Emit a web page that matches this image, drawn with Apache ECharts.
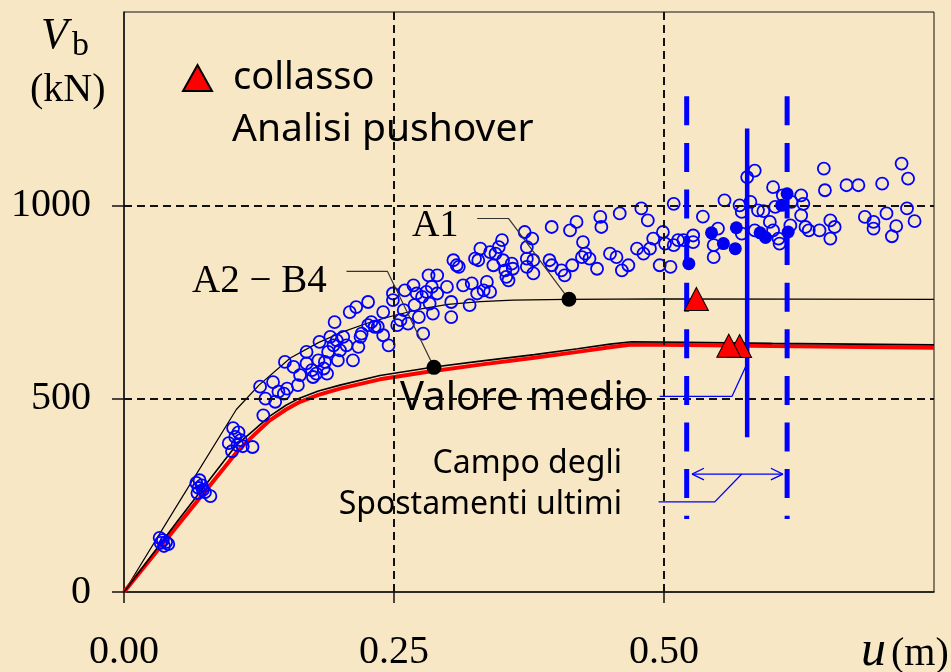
<!DOCTYPE html>
<html>
<head>
<meta charset="utf-8">
<script src="https://cdn.jsdelivr.net/npm/echarts@6/dist/echarts.min.js"></script>
<style>
  html, body { margin: 0; padding: 0; background: #f8e7c4; }
  #chart { width: 951px; height: 672px; }
</style>
</head>
<body>
<div id="chart"></div>
<script>
// Axis ticks
const xTicks = [0, 0.25, 0.5];
const yTicks = [0, 500, 1000];
const xGridLines = [0.25, 0.5];
const yGridLines = [500, 1000];

// Pushover curves: [u (m), Vb (kN)]
const curveA1 = [
  [0, 0], [0.05, 228], [0.104, 472], [0.125, 535], [0.154, 605], [0.18, 645],
  [0.2, 670], [0.225, 695], [0.25, 715], [0.275, 732], [0.3, 744], [0.33, 751],
  [0.36, 755], [0.41, 757], [0.5, 758], [0.75, 757]
];
const curveA2B4 = [
  [0, 0], [0.05, 185], [0.104, 380], [0.12, 418], [0.135, 455], [0.15, 483],
  [0.163, 502], [0.18, 520], [0.2, 535], [0.237, 560], [0.287, 582], [0.33, 597],
  [0.38, 614], [0.42, 629], [0.45, 641], [0.47, 647], [0.52, 646], [0.6, 643], [0.75, 639]
];
const curveMean = [
  [0, 0], [0.05, 173], [0.106, 367], [0.12, 405], [0.135, 444], [0.15, 472],
  [0.163, 492], [0.18, 510], [0.2, 526], [0.237, 550], [0.28, 569], [0.33, 588],
  [0.38, 606], [0.42, 621], [0.45, 633], [0.47, 640], [0.52, 639], [0.6, 636], [0.75, 632]
];

// Dynamic analyses: peak displacement vs base shear
const samples = [
  [0.033, 140], [0.036, 134], [0.039, 129], [0.034, 127], [0.041, 124], [0.037, 119],
  [0.067, 282], [0.069, 269], [0.072, 276], [0.068, 256], [0.075, 258], [0.080, 248], [0.070, 289], [0.073, 264],
  [0.101, 424], [0.103, 401], [0.106, 413], [0.108, 393], [0.097, 385], [0.110, 377], [0.100, 364], [0.119, 375], [0.105, 380],
  [0.126, 531], [0.131, 500], [0.129, 457], [0.138, 543], [0.140, 492], [0.143, 518], [0.148, 513], [0.149, 595],
  [0.151, 526], [0.157, 582], [0.161, 535], [0.163, 561], [0.169, 621], [0.169, 591], [0.174, 574], [0.175, 556],
  [0.178, 565], [0.180, 599], [0.181, 647], [0.185, 578], [0.186, 595], [0.188, 565], [0.189, 621], [0.191, 660],
  [0.194, 638], [0.195, 698], [0.197, 651], [0.198, 599], [0.200, 625], [0.203, 660], [0.206, 638], [0.209, 724],
  [0.212, 599], [0.215, 737], [0.217, 634], [0.219, 660], [0.220, 668], [0.226, 750], [0.226, 690], [0.229, 698],
  [0.232, 686], [0.235, 686], [0.240, 724], [0.240, 664], [0.245, 638], [0.249, 755], [0.249, 772], [0.253, 690],
  [0.256, 703], [0.259, 729], [0.260, 780], [0.263, 694], [0.268, 793], [0.269, 742], [0.271, 772], [0.273, 711],
  [0.276, 763], [0.277, 668], [0.280, 776], [0.282, 819], [0.283, 746], [0.285, 789], [0.286, 720], [0.290, 819], [0.290, 772],
  [0.299, 789], [0.303, 711], [0.303, 750], [0.305, 858], [0.308, 845], [0.310, 841], [0.314, 793], [0.320, 742],
  [0.322, 798], [0.325, 862], [0.327, 772], [0.328, 858], [0.330, 888], [0.333, 780], [0.336, 802], [0.339, 776],
  [0.339, 879], [0.342, 845], [0.344, 875], [0.347, 892], [0.350, 910], [0.351, 858], [0.353, 832], [0.354, 815],
  [0.356, 806], [0.359, 849], [0.360, 836], [0.371, 931], [0.373, 892], [0.373, 862], [0.373, 841], [0.378, 914],
  [0.379, 858], [0.379, 824], [0.394, 858], [0.396, 845], [0.396, 944], [0.405, 832], [0.408, 819], [0.413, 935],
  [0.415, 845], [0.419, 957], [0.425, 905], [0.424, 866], [0.427, 875], [0.431, 862], [0.438, 836], [0.441, 970],
  [0.442, 944], [0.450, 875], [0.456, 866], [0.461, 832], [0.459, 979], [0.467, 845], [0.475, 888], [0.479, 992],
  [0.481, 875], [0.485, 961], [0.487, 888], [0.490, 914], [0.496, 845], [0.499, 931], [0.501, 901], [0.506, 841],
  [0.509, 897], [0.509, 1004], [0.513, 910],
  [0.518, 910], [0.527, 922], [0.527, 905], [0.536, 971], [0.546, 897], [0.546, 866], [0.550, 940], [0.556, 1013],
  [0.570, 1000], [0.572, 983], [0.572, 927], [0.577, 1073], [0.580, 1009], [0.584, 1090], [0.584, 935], [0.587, 987],
  [0.592, 985], [0.598, 957], [0.601, 1047], [0.601, 935], [0.603, 996], [0.606, 914], [0.607, 901], [0.610, 1026],
  [0.617, 948], [0.618, 1009], [0.627, 1026], [0.627, 974], [0.629, 1004], [0.631, 944], [0.634, 935], [0.644, 935],
  [0.648, 1095], [0.649, 1039], [0.654, 961], [0.654, 914], [0.658, 944], [0.669, 1052], [0.680, 1052], [0.686, 970],
  [0.694, 957], [0.694, 940], [0.702, 1056], [0.706, 979], [0.711, 920], [0.715, 946], [0.720, 1108], [0.725, 992],
  [0.726, 1069], [0.732, 959]
];
// Analyses reaching ultimate displacement
const samplesUltimate = [
  [0.523, 849], [0.544, 929], [0.555, 901], [0.566, 888], [0.567, 942],
  [0.589, 929], [0.594, 917], [0.609, 1000], [0.614, 1030], [0.615, 931]
];
// Collapse points of the pushover analyses
const collapse = [[0.570, 636], [0.560, 637], [0.530, 758]];
// Reference points on the pushover curves
const pointA1 = [0.412, 757];
const pointA2B4 = [0.287, 581];

// Range of ultimate displacements
const uLow = 0.521, uHigh = 0.614, uMean = 0.577;
const rangeTop = 1282, rangeBottom = 189;
const meanTop = 1199, meanBottom = 400;

// Annotation leaders (data units)
const leaderA1 = [[0.327, 966], [0.356, 966], pointA1];
const leaderA2B4 = [[0.206, 829], [0.244, 829], pointA2B4];
const leaderMean = [[0.496, 506], [0.563, 506], [0.576, 585]];
const leaderRange = [[0.495, 233], [0.547, 233], [0.572, 305]];
const arrowV = 305;
const arrowLen = 0.011, arrowHalf = 15;

const BLUE = '#0000ff';

function plainLine(name, data, style, z) {
  return {
    name, type: 'line', data, symbol: 'none', silent: true, z: z || 2,
    lineStyle: style, animation: false
  };
}

const chart = echarts.init(document.getElementById('chart'), null, { renderer: 'canvas' });

const option = {
  backgroundColor: '#f8e7c4',
  animation: false,
  grid: {
    left: 124, right: 17, top: 12, bottom: 80,
    show: true, borderColor: '#111', borderWidth: 1, backgroundColor: 'transparent'
  },
  legend: {
    data: ['collasso'],
    left: 182, top: 59, padding: 0,
    icon: 'triangle',
    itemWidth: 29, itemHeight: 26,
    textStyle: { fontFamily: 'Noto Sans', fontSize: 38, color: '#000', padding: [8, 0, 0, 16] }
  },
  xAxis: {
    type: 'value', min: 0, max: 0.75, interval: 0.25,
    axisLine: { show: true, lineStyle: { color: '#111', width: 1.5 } },
    axisTick: { show: true, inside: false, length: 11, customValues: xTicks, lineStyle: { color: '#111', width: 1.5 } },
    axisLabel: {
      customValues: xTicks, margin: 40,
      formatter: v => v.toFixed(2),
      fontFamily: 'Liberation Serif', fontSize: 40, color: '#000'
    },
    splitLine: { show: false }
  },
  yAxis: {
    type: 'value', min: 0, max: 1500, interval: 500,
    axisLine: { show: true, lineStyle: { color: '#111', width: 1.5 } },
    axisTick: { show: true, inside: false, length: 12, customValues: yTicks, lineStyle: { color: '#111', width: 1.5 } },
    axisLabel: {
      customValues: yTicks, margin: 33,
      formatter: v => String(v),
      fontFamily: 'Liberation Serif', fontSize: 40, color: '#000'
    },
    splitLine: { show: false }
  },
  graphic: [
    { type: 'text', x: 41, y: 36, style: { text: 'V', font: 'italic 44px "Liberation Serif"', fill: '#000', verticalAlign: 'middle' } },
    { type: 'text', x: 72, y: 46, style: { text: 'b', font: '34px "Liberation Serif"', fill: '#000', verticalAlign: 'middle' } },
    { type: 'text', x: 30, y: 90, style: { text: '(kN)', font: '40px "Liberation Serif"', fill: '#000', verticalAlign: 'middle' } },
    { type: 'text', x: 861, y: 652, style: { text: 'u', font: 'italic 50px "Liberation Serif"', fill: '#000', verticalAlign: 'middle' } },
    { type: 'text', x: 891, y: 654, style: { text: '(m)', font: '40px "Liberation Serif"', fill: '#000', verticalAlign: 'middle' } },
    { type: 'text', x: 232, y: 130, style: { text: 'Analisi pushover', font: '39px "Noto Sans"', fill: '#000', verticalAlign: 'middle' } },
    { type: 'text', x: 412, y: 226, style: { text: 'A1', font: '38px "Liberation Serif"', fill: '#000', verticalAlign: 'middle' } },
    { type: 'text', x: 192, y: 282, style: { text: 'A2 \u2212 B4', font: '39px "Liberation Serif"', fill: '#000', verticalAlign: 'middle' } },
    { type: 'text', x: 400, y: 399, style: { text: 'Valore medio', font: '40px "Noto Sans"', fill: '#000', verticalAlign: 'middle' } },
    { type: 'text', x: 622, y: 464, style: { text: 'Campo degli', font: '32px "Noto Sans"', fill: '#000', align: 'right', verticalAlign: 'middle' } },
    { type: 'text', x: 622, y: 505, style: { text: 'Spostamenti ultimi', font: '32px "Noto Sans"', fill: '#000', align: 'right', verticalAlign: 'middle' } }
  ],
  series: [
    // dashed reference grid
    {
      name: 'grid', type: 'line', data: [], silent: true, z: 1,
      markLine: {
        silent: true, symbol: 'none', label: { show: false }, animation: false,
        lineStyle: { color: '#111', width: 2, type: [8, 5] },
        data: xGridLines.map(v => ({ xAxis: v })).concat(yGridLines.map(v => ({ yAxis: v })))
      }
    },
    plainLine('A1', curveA1, { color: '#000', width: 1.2 }, 2),
    plainLine('Valore medio', curveMean, { color: '#ff0000', width: 4 }, 2),
    plainLine('A2 - B4', curveA2B4, { color: '#000', width: 1.6 }, 3),
    {
      name: 'analisi', type: 'scatter', data: samples, symbol: 'circle', symbolSize: 12, z: 4,
      itemStyle: { color: 'rgba(0,0,0,0)', borderColor: BLUE, borderWidth: 1.8, opacity: 1 }
    },
    {
      name: 'ultimo', type: 'scatter', data: samplesUltimate, symbol: 'circle', symbolSize: 13, z: 5,
      itemStyle: { color: '#0000ee', opacity: 1 }
    },
    plainLine('leader A1', leaderA1, { color: '#333', width: 1.2 }, 5),
    plainLine('leader A2-B4', leaderA2B4, { color: '#333', width: 1.2 }, 5),
    plainLine('limite inf', [[uLow, rangeTop], [uLow, rangeBottom]], { color: BLUE, width: 5, type: [29, 17.6], cap: 'butt' }, 6),
    plainLine('limite sup', [[uHigh, rangeTop], [uHigh, rangeBottom]], { color: BLUE, width: 5, type: [29, 17.6], cap: 'butt' }, 6),
    plainLine('spostamento medio', [[uMean, meanTop], [uMean, meanBottom]], { color: BLUE, width: 4.5 }, 6),
    plainLine('leader medio', leaderMean, { color: BLUE, width: 1.3 }, 6),
    plainLine('leader campo', leaderRange, { color: BLUE, width: 1.3 }, 6),
    plainLine('campo', [[uLow + 0.005, arrowV], [uHigh - 0.004, arrowV]], { color: BLUE, width: 1.3 }, 6),
    plainLine('freccia sx', [[uLow + 0.005 + arrowLen, arrowV + arrowHalf], [uLow + 0.005, arrowV], [uLow + 0.005 + arrowLen, arrowV - arrowHalf]], { color: BLUE, width: 1.3 }, 6),
    plainLine('freccia dx', [[uHigh - 0.004 - arrowLen, arrowV + arrowHalf], [uHigh - 0.004, arrowV], [uHigh - 0.004 - arrowLen, arrowV - arrowHalf]], { color: BLUE, width: 1.3 }, 6),
    {
      name: 'collasso', type: 'scatter', data: collapse, symbol: 'triangle', symbolSize: [24, 23], z: 7,
      itemStyle: { color: '#ff0000', borderColor: '#000', borderWidth: 1, opacity: 1 }
    },
    {
      name: 'punti', type: 'scatter', data: [pointA1, pointA2B4], symbol: 'circle', symbolSize: 15, z: 7,
      itemStyle: { color: '#000', opacity: 1 }
    }
  ]
};

chart.setOption(option);
</script>
</body>
</html>
